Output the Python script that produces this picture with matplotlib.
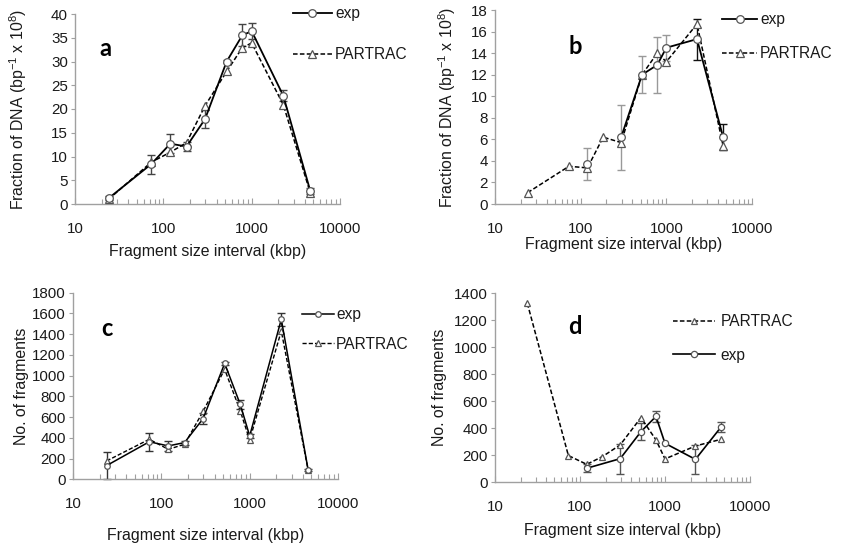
import numpy as np
import matplotlib
matplotlib.use("Agg")
import matplotlib.pyplot as plt
from matplotlib.ticker import LogLocator, NullFormatter, FixedLocator

plt.rcParams['font.family'] = ['Liberation Sans', 'DejaVu Sans']
plt.rcParams['mathtext.fontset'] = 'custom'
plt.rcParams['mathtext.rm'] = 'Liberation Sans'
plt.rcParams['mathtext.it'] = 'Liberation Sans'
plt.rcParams['mathtext.default'] = 'regular'

# ---------------- data ----------------
fragment_kbp = [24, 73, 120, 183, 297, 521, 783, 1000, 2280, 4600]
x_ticks = [10, 100, 1000, 10000]
x_tick_labels = ["10", "100", "1000", "10000"]

a_exp = [1.2, 8.4, 12.7, 12.1, 17.9, 30.0, 35.5, 36.4, 22.8, 2.8]
a_exp_err = [0.4, 2.0, 2.0, 1.0, 1.8, 0.4, 2.3, 1.7, 1.2, 0.6]
a_partrac = [1.0, 8.8, 10.9, 12.9, 20.7, 27.9, 32.9, 33.9, 20.9, 2.4]

nan = np.nan
b_exp = [nan, nan, 3.7, nan, 6.2, 12.0, 12.9, 14.5, 15.3, 6.2]
b_exp_err = [nan, nan, 1.5, nan, 3.0, 1.7, 2.6, 1.2, 1.9, 1.2]
b_partrac = [1.05, 3.5, 3.35, 6.2, 5.7, 12.0, 14.0, 13.2, 16.7, 5.4]

c_exp = [132, 362, 322, 354, 585, 1118, 722, 418, 1543, 88]
c_exp_err = [132, 88, 48, 20, 55, 15, 40, 20, 65, 10]
c_partrac = [177, 386, 289, 338, 655, 1061, 659, 379, 1431, 85]

d_exp = [nan, nan, 104, nan, 175, 375, 488, 289, 170, 412]
d_exp_err = [nan, nan, 30, nan, 110, 62, 40, 0, 110, 37]
d_partrac = [1326, 198, 133, 190, 277, 479, 314, 173, 269, 319]

a_yticks = list(range(0, 41, 5))
b_yticks = list(range(0, 19, 2))
c_yticks = list(range(0, 1801, 200))
d_yticks = list(range(0, 1401, 200))

ylabel_dna = r"Fraction of DNA (bp$^{-1}$ x 10$^{8}$)"
ylabel_frag = "No. of fragments"
xlabel = "Fragment size interval (kbp)"

# ---------------- figure ----------------
W, H = 841, 547
fig = plt.figure(figsize=(W / 100, H / 100), dpi=100)

def px_rect(left, right, bottom, top):
    return [left / W, (H - bottom) / H, (right - left) / W, (bottom - top) / H]

axa = fig.add_axes(px_rect(75, 340, 204, 14))
axb = fig.add_axes(px_rect(495, 752, 204, 10))
axc = fig.add_axes(px_rect(73, 338, 479.3, 292.7))
axd = fig.add_axes(px_rect(495, 750, 482.3, 293.3))

SP = '#a0a0a0'
TXT = '#1a1a1a'
LBL = 11.4


def style(ax, yticks, ylab, ylab_x, xlab_pad):
    ax.set_xscale('log')
    ax.set_xlim(10, 10000)
    ax.set_ylim(yticks[0], yticks[-1])
    ax.set_yticks(yticks)
    ax.xaxis.set_major_locator(FixedLocator(x_ticks))
    ax.set_xticklabels(x_tick_labels)
    ax.xaxis.set_minor_locator(LogLocator(base=10, subs=np.arange(2, 10), numticks=20))
    ax.xaxis.set_minor_formatter(NullFormatter())
    for s in ['top', 'right']:
        ax.spines[s].set_visible(False)
    for s in ['left', 'bottom']:
        ax.spines[s].set_color(SP)
        ax.spines[s].set_linewidth(1.0)
    ax.tick_params(axis='y', which='major', direction='out', length=3, width=0.8,
                   color=SP, labelsize=10.9, labelcolor=TXT, pad=2)
    ax.tick_params(axis='x', which='major', direction='in', length=4, width=0.8,
                   color=SP, labelsize=10.9, labelcolor=TXT, pad=13)
    ax.tick_params(axis='x', which='minor', direction='in', length=3.5, width=0.8, color=SP)
    ax.set_ylabel(ylab, fontsize=LBL, color=TXT)
    ax.yaxis.set_label_coords(ylab_x, 0.5)
    ax.set_xlabel(xlabel, fontsize=LBL, color=TXT, labelpad=xlab_pad)


def plot_pair(ax, exp, exp_err, par, ms, lw_e, lw_p, ecolors, connect_gaps=False, order=('exp', 'par')):
    x = np.array(fragment_kbp, dtype=float)
    e = np.array(exp, dtype=float)
    ee = np.array(exp_err, dtype=float)
    p = np.array(par, dtype=float)
    n = len(x)
    for i in range(n):
        if np.isnan(e[i]) or np.isnan(ee[i]) or ee[i] == 0:
            continue
        ax.errorbar([x[i]], [e[i]], yerr=[ee[i]], fmt='none', ecolor=ecolors[i],
                    elinewidth=1.0, capsize=3, capthick=1.0, zorder=2, clip_on=False)
    if connect_gaps:
        m = ~np.isnan(e)
        xe, ye = x[m], e[m]
    else:
        xe, ye = x, e
    h = {}
    h['exp'], = ax.plot(xe, ye, '-', color='black', lw=lw_e, marker='o', ms=ms,
                        mfc='white', mec='#555555', mew=0.9, zorder=4, clip_on=False, label='exp')
    h['par'], = ax.plot(x, p, '--', color='black', lw=lw_p, marker='^', ms=ms,
                        mfc='white', mec='#555555', mew=0.9, zorder=3, clip_on=False,
                        label='PARTRAC', dashes=(3, 1.5))
    return [h[k] for k in order]


def legend(ax, handles, fx, fy, spacing, hl, htp):
    ax.legend(handles=handles, loc='upper left', bbox_to_anchor=(fx / W, 1 - fy / H),
              bbox_transform=fig.transFigure, frameon=False, borderaxespad=0, borderpad=0,
              fontsize=11.2, labelspacing=spacing, handlelength=hl, handletextpad=htp,
              labelcolor=TXT)


# panel a
style(axa, a_yticks, ylabel_dna, -0.175, 6)
hs = plot_pair(axa, a_exp, a_exp_err, a_partrac, 5.5, 1.3, 1.1, ['#444444'] * 10)
legend(axa, hs, 293, 6, 1.7, 2.5, 0.2)

# panel b
style(axb, b_yticks, ylabel_dna, -0.145, 1)
b_cols = ['#999999'] * 8 + ['#111111'] * 2
hs = plot_pair(axb, b_exp, b_exp_err, b_partrac, 5.5, 1.3, 1.1, b_cols)
legend(axb, hs, 722, 12, 1.25, 2.25, 0.2)

# panel c
style(axc, c_yticks, ylabel_frag, -0.165, 12)
hs = plot_pair(axc, c_exp, c_exp_err, c_partrac, 4.0, 1.1, 1.0, ['#333333'] * 10)
legend(axc, hs, 302, 307, 0.95, 2.05, 0.15)

# panel d
style(axd, d_yticks, ylabel_frag, -0.188, 6)
hs = plot_pair(axd, d_exp, d_exp_err, d_partrac, 4.5, 1.2, 1.1, ['#555555'] * 10,
               connect_gaps=True, order=('par', 'exp'))
legend(axd, hs, 673, 314, 1.2, 2.7, 0.35)

# panel letters
for lab, (px, py) in zip(['a', 'b', 'c', 'd'], [(105, 49), (575, 47), (107, 329), (575, 327)]):
    fig.text(px / W, 1 - py / H, lab, ha='center', va='center', fontsize=17,
             fontweight='bold', family=['Lato', 'DejaVu Sans'], color='black')

fig.savefig('out.png', dpi=100)
